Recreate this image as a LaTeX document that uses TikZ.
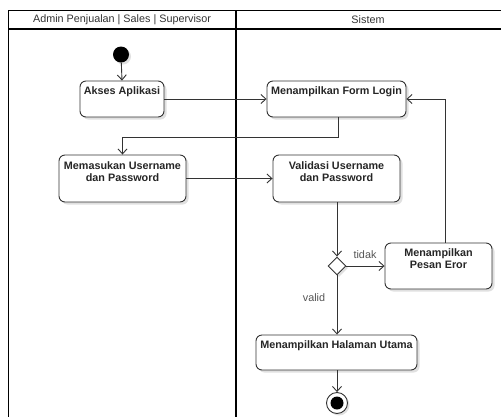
\documentclass[tikz,border=0pt]{standalone}
\usepackage{fontspec}
\setmainfont{Liberation Sans}
\usetikzlibrary{arrows.meta,shapes.geometric,shadows}
\definecolor{ln}{HTML}{333333}
\definecolor{lbl}{HTML}{555555}
\tikzset{
  lane/.style={draw=black, line width=1.3pt},
  actbox/.style={draw=ln, line width=0.9pt, rounded corners=6pt, fill=white,
    drop shadow={shadow xshift=2.5pt, shadow yshift=-2.5pt, fill=black, opacity=0.12}},
  acttxt/.style={anchor=north, inner sep=0pt, align=center, font=\fontsize{10.8}{12.5}\selectfont\bfseries, text=black!85},
  flow/.style={draw=ln, line width=0.9pt, -{Straight Barb[length=5pt,width=9pt,line width=0.9pt]}},
  lanetxt/.style={font=\fontsize{10.8}{12.5}\selectfont, text=ln, inner sep=0pt},
  edgetxt/.style={font=\fontsize{10.8}{12.5}\selectfont, text=lbl, inner sep=0pt},
}
\begin{document}
\begin{tikzpicture}[x=1pt,y=-1pt]
\useasboundingbox (0,0) rectangle (501,416);
\fill[white] (0,0) rectangle (501,416);
% swimlanes
\draw[lane] (8.3,10.7) -- (510,10.7);
\draw[lane] (8.3,29) -- (510,29);
\draw[lane] (8.3,10.7) -- (8.3,430);
\draw[lane] (236,10.7) -- (236,430);
\node[lanetxt] (h1) at (122,19.5) {Admin Penjualan | Sales | Supervisor};
\node[lanetxt] (h2) at (368,19.5) {Sistem};
% start
\node[circle, fill=black, minimum size=16pt, inner sep=0pt,
  drop shadow={shadow xshift=2pt, shadow yshift=-2pt, fill=black, opacity=0.12}] (start) at (121,54.5) {};
% activities
\node[actbox, minimum width=84pt, minimum height=36pt] (akses) at (122,99) {};
\node[acttxt, yshift=-5.5pt] (aksesT) at (akses.north) {Akses Aplikasi};
\node[actbox, minimum width=139pt, minimum height=36pt] (form) at (336.5,99) {};
\node[acttxt, yshift=-5.5pt] (formT) at (form.north) {Menampilkan Form Login};
\node[actbox, minimum width=127pt, minimum height=47pt] (mem) at (122.5,178.5) {};
\node[acttxt, yshift=-6.5pt] (memT) at (mem.north) {Memasukan Username\\dan Password};
\node[actbox, minimum width=127pt, minimum height=47pt] (val) at (336.5,178.5) {};
\node[acttxt, yshift=-6.5pt] (valT) at (val.north) {Validasi Username\\dan Password};
\node[diamond, draw=ln, line width=0.9pt, fill=white, minimum width=18pt, minimum height=18pt, inner sep=0pt,
  drop shadow={shadow xshift=2pt, shadow yshift=-2pt, fill=black, opacity=0.12}] (dia) at (337,266) {};
\node[actbox, minimum width=107pt, minimum height=46pt] (err) at (438.5,266) {};
\node[acttxt, yshift=-5.5pt] (errT) at (err.north) {Menampilkan\\Pesan Eror};
\node[actbox, minimum width=161pt, minimum height=35pt] (hal) at (336.5,352.5) {};
\node[acttxt, yshift=-6pt] (halT) at (hal.north) {Menampilkan Halaman Utama};
% end
\node[circle, draw=ln, line width=0.9pt, fill=white, minimum size=21pt, inner sep=0pt,
  drop shadow={shadow xshift=2pt, shadow yshift=-2pt, fill=black, opacity=0.12}] (endo) at (337,403) {};
\node[circle, fill=black, minimum size=13pt, inner sep=0pt] (endi) at (endo.center) {};
% connectors
\coordinate (k1) at (338,137);
\coordinate (k2) at (445,99);
\draw[flow] (start) -- (akses.north);
\draw[flow] (akses.east) -- (form.west);
\draw[flow] (form.south -| k1) -- (k1) -| (mem.north);
\draw[flow] (mem.east) -- (val.west);
\draw[flow] (val.south -| dia.north) -- (dia.north);
\draw[flow] (dia.east) -- (err.west);
\draw[flow] (err.north -| k2) -- (k2) -- (form.east);
\draw[flow] (dia.south) -- (hal.north -| dia.south);
\draw[flow] (hal.south -| endo.north) -- (endo.north);
\node[edgetxt] (tidak) at (365,254.5) {tidak};
\node[edgetxt] (valid) at (314,298) {valid};
\end{tikzpicture}
\end{document}
